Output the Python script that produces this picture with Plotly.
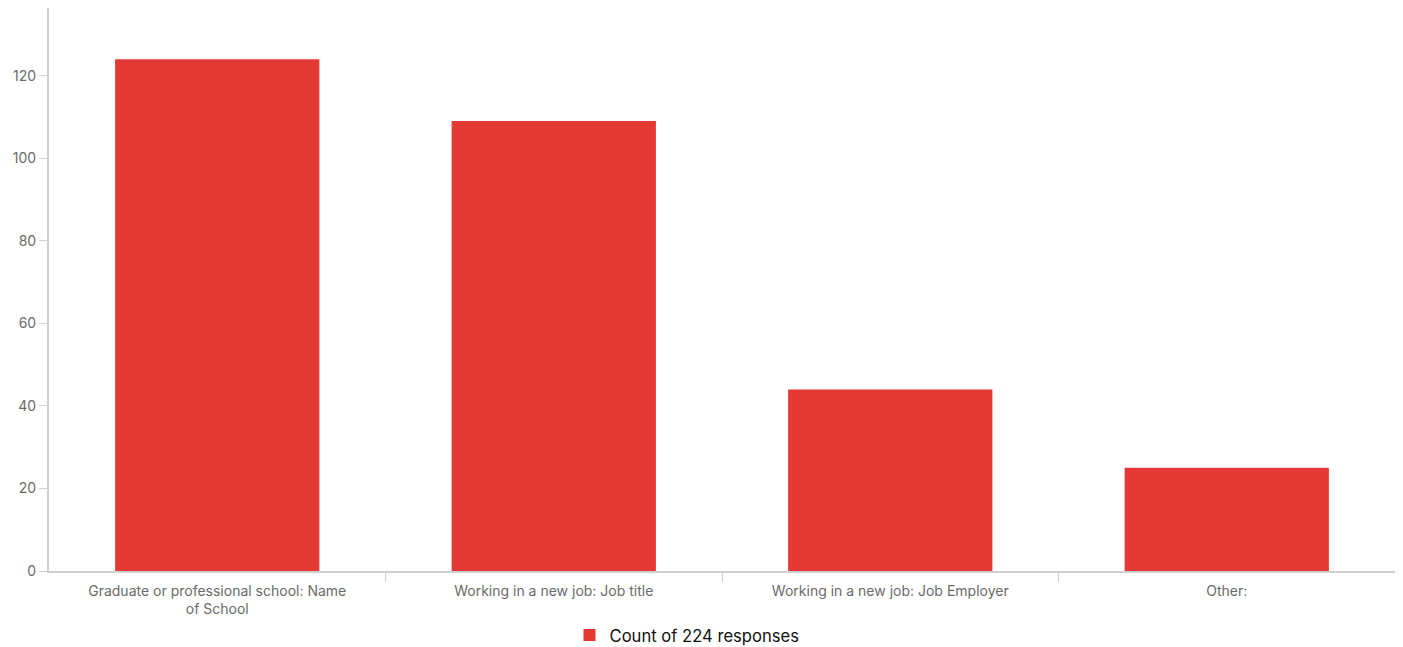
import plotly.graph_objects as go

categories = [
    "Graduate or professional school: Name<br>of School",
    "Working in a new job: Job title",
    "Working in a new job: Job Employer",
    "Other:",
]
counts = [124, 109, 44, 25]
series_name = "Count of 224 responses"
y_ticks = [0, 20, 40, 60, 80, 100, 120]

positions = list(range(len(categories)))
boundaries = [p + 0.5 for p in positions[:-1]]

fig = go.Figure()
fig.add_trace(go.Bar(
    x=positions, y=counts, name=series_name,
    marker=dict(color="#E43A35", line=dict(width=0)),
    width=0.607, showlegend=True,
))

fig.update_layout(
    width=1395, height=639,
    margin=dict(l=41, r=8, t=0, b=76, autoexpand=False),
    paper_bgcolor="white", plot_bgcolor="white",
    font=dict(family="Inter, Roboto, sans-serif", size=14, color="#6b6b6b"),
    showlegend=True,
    legend=dict(orientation="h", x=0.474, xanchor="center", y=-0.083, yanchor="top",
                font=dict(size=16.6, color="#111111"), itemwidth=30),
    xaxis=dict(
        range=[-0.5, len(categories) - 0.5],
        tickvals=positions, ticktext=categories, ticks="",
        minor=dict(tickvals=boundaries, ticks="outside", ticklen=9, tickcolor="#d0d0d0", showgrid=False),
        showline=True, linecolor="#d0d0d0", linewidth=2, automargin=False,
        showgrid=False, zeroline=False, ticklabelstandoff=6,
        tickfont=dict(size=14, color="#6b6b6b"),
    ),
    yaxis=dict(
        range=[0, 136.4], tickvals=y_ticks, automargin=False,
        showline=True, linecolor="#d0d0d0", linewidth=2,
        ticks="outside", ticklen=8, tickcolor="#d0d0d0",
        showgrid=False, zeroline=False, tickfont=dict(size=14, color="#6b6b6b"),
    ),
)

fig.write_html("out.html")
